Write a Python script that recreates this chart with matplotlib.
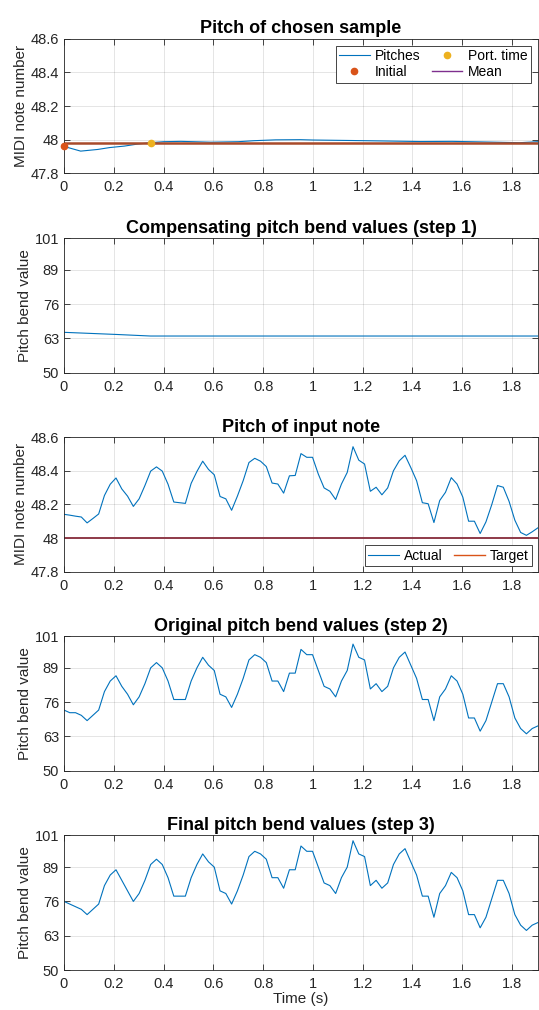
import numpy as np
import matplotlib
matplotlib.use('Agg')
import matplotlib.pyplot as plt
from matplotlib.ticker import FormatStrFormatter

plt.rcParams['font.family'] = ['Liberation Sans', 'DejaVu Sans']

# frame hop of the pitch tracker (s)
hop = 1024 / 44100.0

# pitch of the chosen sample
sample_t = [0, 0.067, 0.136, 0.183, 0.243, 0.296, 0.348, 0.40, 0.47, 0.59, 0.70,
            0.763, 0.85, 0.95, 1.0, 1.16, 1.30, 1.43, 1.56, 1.70, 1.83, 1.904]
sample_pitch = [47.960, 47.932, 47.942, 47.953, 47.962, 47.974, 47.982, 47.988,
                47.990, 47.985, 47.988, 47.994, 47.999, 48.000, 47.998, 47.995,
                47.992, 47.989, 47.990, 47.986, 47.982, 47.988]
initial_t, initial_pitch = 0.0, 47.960
port_t, port_pitch = 0.348, 47.982
mean_pitch = 47.982

# compensating pitch bend (step 1)
comp_t = [0, 0.209, 0.348, 1.904]
comp_pb = [65.3, 64.5, 63.9, 63.9]

# pitch of the input note
input_pitch = [
    48.141, 48.136, 48.130, 48.125, 48.090, 48.116, 48.143, 48.253, 48.320, 48.357,
    48.292, 48.249, 48.188, 48.233, 48.312, 48.398, 48.423, 48.398, 48.320, 48.214,
    48.210, 48.206, 48.325, 48.396, 48.457, 48.408, 48.376, 48.247, 48.233, 48.165,
    48.249, 48.341, 48.449, 48.474, 48.457, 48.425, 48.327, 48.321, 48.267, 48.370,
    48.372, 48.502, 48.480, 48.480, 48.380, 48.298, 48.278, 48.229, 48.321, 48.390,
    48.543, 48.463, 48.440, 48.278, 48.302, 48.257, 48.298, 48.400, 48.459, 48.492,
    48.419, 48.341, 48.210, 48.204, 48.092, 48.223, 48.272, 48.359, 48.321, 48.243,
    48.100, 48.100, 48.027, 48.096, 48.198, 48.312, 48.302, 48.218, 48.106, 48.033,
    48.016, 48.037, 48.061]
target_pitch = 48.0

# original pitch bend values (step 2)
orig_pb = [
    73, 72, 72, 71, 69, 71, 73, 80, 84, 86,
    82, 79, 75, 78, 83, 89, 91, 89, 84, 77,
    77, 77, 84, 89, 93, 90, 88, 79, 78, 74,
    79, 85, 92, 94, 93, 91, 84, 84, 80, 87,
    87, 96, 94, 94, 88, 82, 81, 78, 84, 88,
    98, 93, 92, 81, 83, 80, 82, 89, 93, 95,
    90, 85, 77, 77, 69, 78, 81, 86, 84, 79,
    70, 70, 65, 69, 76, 83, 83, 78, 70, 66,
    64, 66, 67]

# final pitch bend values (step 3)
final_pb = [
    76, 75, 74, 73, 71, 73, 75, 82, 86, 88,
    84, 80, 76, 79, 84, 90, 92, 90, 85, 78,
    78, 78, 85, 90, 94, 91, 89, 80, 79, 75,
    80, 86, 93, 95, 94, 92, 85, 85, 81, 88,
    88, 97, 95, 95, 89, 83, 82, 79, 85, 89,
    99, 94, 93, 82, 84, 81, 83, 90, 94, 96,
    91, 86, 78, 78, 70, 79, 82, 87, 85, 80,
    71, 71, 66, 70, 77, 84, 84, 79, 71, 67,
    65, 67, 68]

t = np.arange(len(input_pitch)) * hop

pitch_ticks = [47.8, 48, 48.2, 48.4, 48.6]
pb_ticks = [50, 63, 76, 89, 101]
x_ticks = [0, 0.2, 0.4, 0.6, 0.8, 1, 1.2, 1.4, 1.6, 1.8]

blue = '#0072BD'
orange = '#D95319'
yellow = '#EDB120'
purple = '#7E2F8E'
dark = '#262626'

fig = plt.figure(figsize=(5.39, 10.10), dpi=100)
bottoms = [0.8284, 0.6310, 0.4340, 0.2369, 0.0396]
axes = [fig.add_axes([0.1187, b, 0.8794, 0.1332]) for b in bottoms]


def style(ax, title, ylabel, yticks, fmt):
    ax.set_xlim(0, t[-1])
    ax.set_ylim(yticks[0], yticks[-1])
    ax.set_xticks(x_ticks)
    ax.set_yticks(yticks)
    ax.xaxis.set_major_formatter(FormatStrFormatter('%g'))
    ax.yaxis.set_major_formatter(FormatStrFormatter(fmt))
    ax.grid(True, color='#000000', alpha=0.12, linewidth=0.6)
    ax.tick_params(direction='in', top=True, right=True, length=4,
                   width=0.6, colors=dark, labelsize=10.5)
    ax.tick_params(axis='x', pad=5)
    ax.tick_params(axis='y', pad=3.5)
    for s in ax.spines.values():
        s.set_color(dark)
        s.set_linewidth(0.6)
    ax.set_title(title, fontsize=13, fontweight='bold', pad=4)
    ax.set_ylabel(ylabel, fontsize=11, color=dark, labelpad=2)


def make_legend(ax, loc, pad):
    leg = ax.legend(loc=loc, ncol=2, fontsize=10, fancybox=False,
                    edgecolor=dark, framealpha=1, borderpad=0.25, labelspacing=0.15,
                    handlelength=2.2, handletextpad=0.4, columnspacing=0.8,
                    borderaxespad=pad)
    leg.get_frame().set_linewidth(0.6)


# panel 1
ax = axes[0]
ax.plot(sample_t, sample_pitch, color=blue, lw=0.8, label='Pitches')
ax.axhline(mean_pitch, color='#A84A2A', lw=1.8)
ax.plot([initial_t], [initial_pitch], 'o', color=orange, ms=4.5, label='Initial',
        clip_on=False, zorder=5)
ax.plot([port_t], [port_pitch], 'o', color=yellow, ms=4.5, label='Port. time', zorder=5)
ax.plot([], [], color=purple, lw=1, label='Mean')
style(ax, 'Pitch of chosen sample', 'MIDI note number', pitch_ticks, '%g')
make_legend(ax, 'upper right', 0.5)

# panel 2
ax = axes[1]
ax.plot(comp_t, comp_pb, color=blue, lw=0.8)
style(ax, 'Compensating pitch bend values (step 1)', 'Pitch bend value', pb_ticks, '%d')

# panel 3
ax = axes[2]
ax.plot(t, input_pitch, color=blue, lw=0.8, label='Actual')
ax.axhline(target_pitch, color='#8E3A48', lw=1.4)
ax.plot([], [], color=orange, lw=1, label='Target')
style(ax, 'Pitch of input note', 'MIDI note number', pitch_ticks, '%g')
make_legend(ax, 'lower right', 0.4)

# panel 4
ax = axes[3]
ax.plot(t, orig_pb, color=blue, lw=0.8)
style(ax, 'Original pitch bend values (step 2)', 'Pitch bend value', pb_ticks, '%d')

# panel 5
ax = axes[4]
ax.plot(t, final_pb, color=blue, lw=0.8)
style(ax, 'Final pitch bend values (step 3)', 'Pitch bend value', pb_ticks, '%d')
ax.set_xlabel('Time (s)', fontsize=11, color=dark, labelpad=1)

fig.savefig('out.png', dpi=100)
